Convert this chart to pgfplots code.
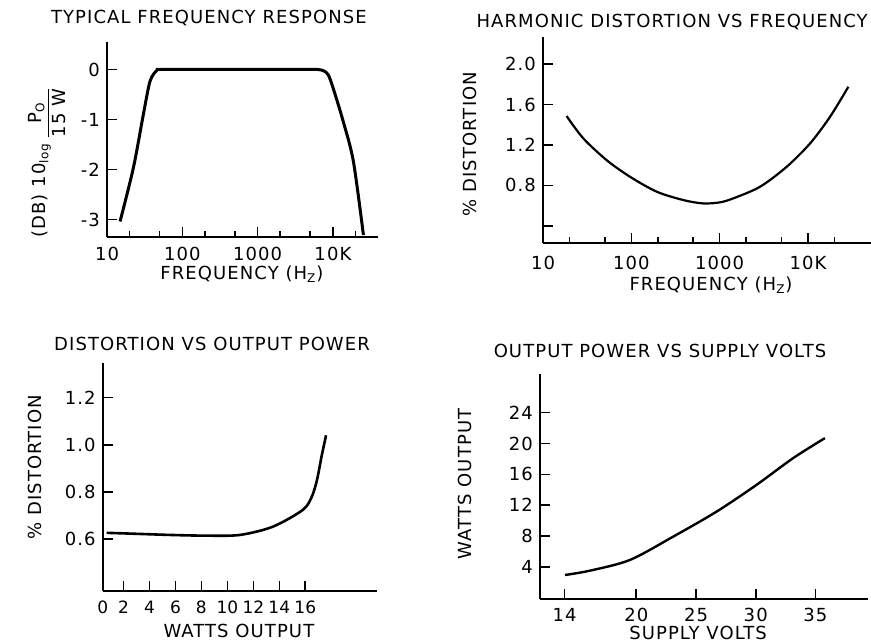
\documentclass[border=0pt]{standalone}
\usepackage{pgfplots}
\pgfplotsset{compat=1.18}
\usepackage{fontspec}
\setmainfont[LetterSpace=6]{DejaVu Sans}
\newfontfamily\tight{DejaVu Sans}
\newcommand{\fs}{\fontsize{9}{10}\selectfont}
\begin{document}
\begin{tikzpicture}
\useasboundingbox (0,0) rectangle (435.5pt,321pt);
\pgfplotsset{
  hand/.style={
    scale only axis,
    axis lines=left,
    axis line style={-, line width=0.9pt},
    tick align=inside,
    major tick length=5pt,
    minor tick length=3pt,
    every tick/.style={line width=0.8pt, black},
    tick label style={font=\fs},
    label style={font=\fs},
    title style={font=\fs},
    every axis title shift=0pt,
    /pgf/number format/assume math mode=true,
    clip=false,
    anchor=south west,
  },
}
% ---------- Plot 1 ----------
\begin{axis}[hand,
  at={(53.5pt,202.5pt)}, width=135.5pt, height=97.5pt,
  xmode=log, xmin=10, xmax=39700, ymin=-3.35, ymax=0.55,
  xtick={10,100,1000,10000}, xticklabels={10,100,1000,10K},
  minor xtick={20,50,200,500,2000,5000,20000},
  xticklabel style={yshift=-1.5pt},
  ytick={0,-1,-2,-3}, yticklabels={0,-1,-2,-3},
  title={TYPICAL FREQUENCY RESPONSE},
  title style={at={(axis description cs:0.376,1.123)}, anchor=center},
  xlabel={FREQUENCY (H\textsubscript{Z})},
  xlabel style={at={(axis description cs:0.498,-0.192)}, anchor=center},
  ylabel={(DB) 10\textsubscript{log}\,\raisebox{-0.8ex}{$\displaystyle\frac{\mbox{P\textsubscript{O}}}{\mbox{15 W}}$}},
  ylabel style={at={(axis description cs:-0.221,0.385)}, anchor=center},
]
\addplot[black, line width=1.5pt, smooth, tension=0.5] coordinates {
(14.9,-3.04) (22.3,-1.98) (30.3,-0.91) (37.2,-0.24) (45.7,-0.02) (53.2,0)
(200,0) (1000,0) (4000,0) (6300,0) (7600,-0.03) (8690,-0.11) (10100,-0.38)
(13700,-1.04) (18700,-1.84) (25400,-3.31)
};
\end{axis}
% ---------- Plot 2 ----------
\begin{axis}[hand,
  at={(271.5pt,199.5pt)}, width=166pt, height=103pt,
  xmode=log, xmin=10, xmax=57500, ymin=0.23, ymax=2.27,
  xtick={10,100,1000,10000}, xticklabels={10,100,1000,10K},
  minor xtick={20,50,200,500,2000,5000,20000},
  xticklabel style={yshift=-3pt},
  ytick={0.4,0.8,1.2,1.6,2.0}, yticklabels={,0.8,1.2,1.6,2.0},
  title={HARMONIC DISTORTION VS FREQUENCY},
  title style={at={(axis description cs:0.389,1.073)}, anchor=center},
  xlabel={FREQUENCY (H\textsubscript{Z})},
  xlabel style={at={(axis description cs:0.506,-0.205)}, anchor=center},
  ylabel={\% DISTORTION},
  ylabel style={at={(axis description cs:-0.22,0.48)}, anchor=center},
]
\addplot[black, line width=1.1pt, smooth] coordinates {
(18.5,1.487) (28.6,1.266) (52.6,1.05) (96.6,0.886) (194,0.738) (388,0.655)
(650,0.622) (1000,0.632) (1429,0.672) (2870,0.787) (5750,0.985) (10600,1.217)
(17800,1.48) (28700,1.777)
};
\end{axis}
% ---------- Plot 3 ----------
\begin{axis}[hand,
  at={(51.35pt,25.5pt)}, width=137pt, height=114pt,
  xmin=0.4, xmax=21.5, ymin=0.379, ymax=1.347,
  xtick={2,4,...,16},
  xticklabel style={font=\tight\fontsize{8.5}{10}\selectfont, yshift=-1.5pt},
  extra x ticks={0.4}, extra x tick labels={0},
  extra x tick style={major tick length=0pt},
  ytick={0.6,0.8,1.0,1.2}, yticklabels={0.6,0.8,1.0,1.2},
  title={DISTORTION VS OUTPUT POWER},
  title style={at={(axis description cs:0.399,1.083)}, anchor=center},
  xlabel={WATTS OUTPUT},
  xlabel style={at={(axis description cs:0.497,-0.175)}, anchor=center},
  ylabel={\% DISTORTION},
  ylabel style={at={(axis description cs:-0.247,0.542)}, anchor=center},
]
\addplot[black, line width=1.3pt, smooth] coordinates {
(0.7,0.626) (2.9,0.622) (5.6,0.617) (8.4,0.614) (10.96,0.617) (13.5,0.652)
(15.8,0.723) (16.5,0.779) (16.9,0.85) (17.25,0.949) (17.6,1.04)
};
\end{axis}
% ---------- Plot 4 ----------
\begin{axis}[hand,
  at={(270pt,21.5pt)}, width=164pt, height=112.5pt,
  xmin=11.94, xmax=39.4, ymin=-0.15, ymax=29.0,
  xtick={14,20,25,30,35},
  xticklabel style={yshift=-1pt},
  ytick={4,8,12,16,20,24},
  title={OUTPUT POWER VS SUPPLY VOLTS},
  title style={at={(axis description cs:0.366,1.102)}, anchor=center},
  xlabel={SUPPLY VOLTS},
  xlabel style={at={(axis description cs:0.482,-0.153)}, anchor=center},
  ylabel={WATTS OUTPUT},
  ylabel style={at={(axis description cs:-0.229,0.511)}, anchor=center},
]
\addplot[black, line width=1.2pt, smooth] coordinates {
(14.03,2.96) (16.12,3.52) (19.47,4.91) (23.09,7.93) (26.72,11.17)
(30.07,14.64) (33.13,18.1) (35.79,20.69)
};
\end{axis}
\end{tikzpicture}
\end{document}
